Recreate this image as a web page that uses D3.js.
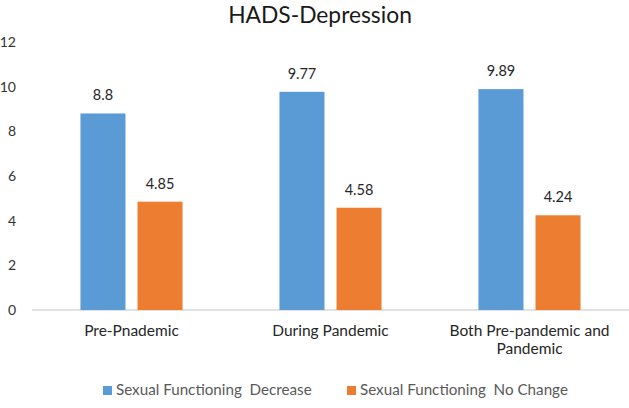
<!DOCTYPE html>
<html>
<head>
<meta charset="utf-8">
<script src="https://cdn.jsdelivr.net/npm/d3@7"></script>
<style>
  body { margin: 0; background: #fff; }
  svg { display: block; font-family: Lato, "Open Sans", sans-serif; }
</style>
</head>
<body>
<div id="chart"></div>
<script>
// data
const categories = [
  ["Pre-Pnademic"],
  ["During Pandemic"],
  ["Both Pre-pandemic and", "Pandemic"]
];
const seriesNames = ["Sexual Functioning  Decrease", "Sexual Functioning  No Change"];
const decreaseValues = [8.8, 9.77, 9.89];
const noChangeValues = [4.85, 4.58, 4.24];
const yTicks = [0, 2, 4, 6, 8, 10, 12];
const colors = ["#5B9BD5", "#ED7D31"];

const width = 629;
const height = 408;

const svg = d3.select("#chart").append("svg")
  .attr("width", width)
  .attr("height", height);

// title
svg.append("text")
  .attr("x", 320)
  .attr("y", 23)
  .attr("text-anchor", "middle")
  .style("font-size", "22.8px")
  .style("fill", "#1a1a1a")
  .text("HADS-Depression");

// scales
const catIdx = categories.map((d, i) => i);
const x0 = d3.scaleBand()
  .domain(catIdx)
  .range([32, 629])
  .paddingInner(0.487)
  .paddingOuter(0.2435);

const x1 = d3.scaleBand()
  .domain([0, 1])
  .range([0, x0.bandwidth()])
  .paddingInner(0.211);

const y = d3.scaleLinear().domain([0, 12]).range([310, 42]);

// y axis labels (no line, no ticks)
const yAxis = d3.axisLeft(y).tickValues(yTicks).tickSize(0).tickPadding(0);
const yg = svg.append("g")
  .attr("transform", "translate(16,0)")
  .call(yAxis);
yg.select(".domain").remove();
yg.selectAll("text")
  .style("font-size", "14px")
  .style("font-family", "Lato, sans-serif")
  .style("fill", "#333");

// baseline
svg.append("line")
  .attr("x1", 32)
  .attr("x2", 629)
  .attr("y1", y(0))
  .attr("y2", y(0))
  .attr("stroke", "#d9d9d9")
  .attr("stroke-width", 1.5);

// bars
const rows = [];
catIdx.forEach(i => {
  rows.push({ c: i, s: 0, v: decreaseValues[i] });
  rows.push({ c: i, s: 1, v: noChangeValues[i] });
});

svg.selectAll(".bar")
  .data(rows)
  .enter()
  .append("rect")
  .attr("class", "bar")
  .attr("x", d => x0(d.c) + x1(d.s))
  .attr("y", d => y(d.v))
  .attr("width", x1.bandwidth())
  .attr("height", d => y(0) - y(d.v))
  .attr("fill", d => colors[d.s]);

// value labels
svg.selectAll(".val")
  .data(rows)
  .enter()
  .append("text")
  .attr("class", "val")
  .attr("x", d => x0(d.c) + x1(d.s) + x1.bandwidth() / 2)
  .attr("y", d => y(d.v) - 13)
  .attr("text-anchor", "middle")
  .style("font-size", "14.5px")
  .style("fill", "#262626")
  .text(d => d.v);

// category labels
const cl = svg.selectAll(".cat")
  .data(categories)
  .enter()
  .append("text")
  .attr("class", "cat")
  .attr("text-anchor", "middle")
  .attr("y", 336)
  .style("font-size", "15.5px")
  .style("fill", "#262626");
cl.each(function (lines, i) {
  const t = d3.select(this);
  lines.forEach((ln, j) => {
    t.append("tspan")
      .attr("x", x0(i) + x0.bandwidth() / 2)
      .attr("dy", j === 0 ? 0 : 18)
      .text(ln);
  });
});

// legend
const legendX = [103, 347];
const lg = svg.selectAll(".leg")
  .data(seriesNames)
  .enter()
  .append("g")
  .attr("class", "leg")
  .attr("transform", (d, i) => "translate(" + legendX[i] + ",386)");
lg.append("rect")
  .attr("width", 9)
  .attr("height", 9)
  .attr("fill", (d, i) => colors[i]);
lg.append("text")
  .attr("x", 13)
  .attr("y", 9)
  .style("font-size", "15.2px")
  .style("fill", "#595959")
  .style("white-space", "pre")
  .text(d => d);
</script>
</body>
</html>
